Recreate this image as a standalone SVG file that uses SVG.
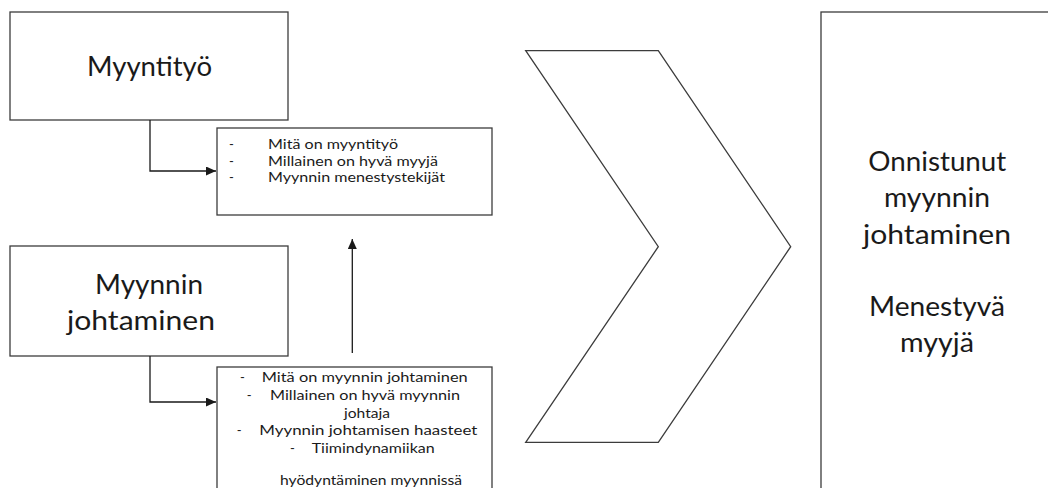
<svg xmlns="http://www.w3.org/2000/svg" width="1048" height="488" viewBox="0 0 1048 488">
<style>
.box{fill:#fff;stroke:#3c3c3c;stroke-width:1.3}
.big{font-family:Lato,"Open Sans","Liberation Sans",sans-serif;font-size:26px;fill:#1a1a1a}
.sm{font-family:Lato,"Open Sans","Liberation Sans",sans-serif;font-size:13px;fill:#1a1a1a}
.con{fill:none;stroke:#1a1a1a;stroke-width:1.3}
</style>
<defs>
<marker id="ah" viewBox="0 0 10 10" refX="10" refY="5" markerWidth="10" markerHeight="9" markerUnits="userSpaceOnUse" orient="auto" preserveAspectRatio="none">
<path d="M0,0 L10,5 L0,10 Z" fill="#1a1a1a"/>
</marker>
</defs>
<rect width="1048" height="488" fill="#fff"/>
<g id="myyntityo">
<rect class="box" x="10" y="12" width="278" height="108"/>
<text class="big" x="87" y="76" textLength="125" lengthAdjust="spacingAndGlyphs">Myyntityö</text>
</g>
<g id="myyntityo-list">
<rect class="box" x="217" y="128" width="275" height="87"/>
<text class="sm" x="229" y="149">-</text><text class="sm" x="268" y="149" textLength="130" lengthAdjust="spacingAndGlyphs">Mitä on myyntityö</text>
<text class="sm" x="229" y="165.5">-</text><text class="sm" x="268" y="165.5" textLength="170" lengthAdjust="spacingAndGlyphs">Millainen on hyvä myyjä</text>
<text class="sm" x="229" y="182">-</text><text class="sm" x="268" y="182" textLength="177" lengthAdjust="spacingAndGlyphs">Myynnin menestystekijät</text>
</g>
<g id="myynnin-johtaminen">
<rect class="box" x="10" y="246" width="278" height="110"/>
<text class="big" x="95" y="294" textLength="108" lengthAdjust="spacingAndGlyphs">Myynnin</text>
<text class="big" x="67" y="330" textLength="148" lengthAdjust="spacingAndGlyphs">johtaminen</text>
</g>
<g id="johtaminen-list">
<rect class="box" x="217" y="367" width="275" height="140"/>
<text class="sm" x="240" y="382">-</text><text class="sm" x="261.7" y="382" textLength="206" lengthAdjust="spacingAndGlyphs">Mitä on myynnin johtaminen</text>
<text class="sm" x="246.7" y="400">-</text><text class="sm" x="270" y="400" textLength="190" lengthAdjust="spacingAndGlyphs">Millainen on hyvä myynnin</text>
<text class="sm" x="344" y="417.5" textLength="46" lengthAdjust="spacingAndGlyphs">johtaja</text>
<text class="sm" x="236.7" y="435">-</text><text class="sm" x="259.3" y="435" textLength="218" lengthAdjust="spacingAndGlyphs">Myynnin johtamisen haasteet</text>
<text class="sm" x="290" y="452.5">-</text><text class="sm" x="311.7" y="452.5" textLength="123" lengthAdjust="spacingAndGlyphs">Tiimindynamiikan</text>
<text class="sm" x="280" y="485" textLength="182" lengthAdjust="spacingAndGlyphs">hyödyntäminen myynnissä</text>
</g>
<g id="chevron">
<polygon class="box" points="525.7,50.7 658.3,50.7 790.7,246.7 658.3,442.3 525.7,442.3 658.3,246.7"/>
</g>
<g id="tulos">
<rect class="box" x="821" y="12" width="240" height="500"/>
<text class="big" x="868.3" y="171" textLength="138" lengthAdjust="spacingAndGlyphs">Onnistunut</text>
<text class="big" x="884" y="207" textLength="106" lengthAdjust="spacingAndGlyphs">myynnin</text>
<text class="big" x="863" y="244" textLength="148" lengthAdjust="spacingAndGlyphs">johtaminen</text>
<text class="big" x="869" y="316" textLength="136" lengthAdjust="spacingAndGlyphs">Menestyvä</text>
<text class="big" x="900" y="352" textLength="74" lengthAdjust="spacingAndGlyphs">myyjä</text>
</g>
<g id="connectors">
<path class="con" d="M150,120 V171 H216" marker-end="url(#ah)"/>
<path class="con" d="M150,356 V402 H216" marker-end="url(#ah)"/>
<path class="con" d="M352.3,353 V239" marker-end="url(#ah)"/>
</g>
</svg>
